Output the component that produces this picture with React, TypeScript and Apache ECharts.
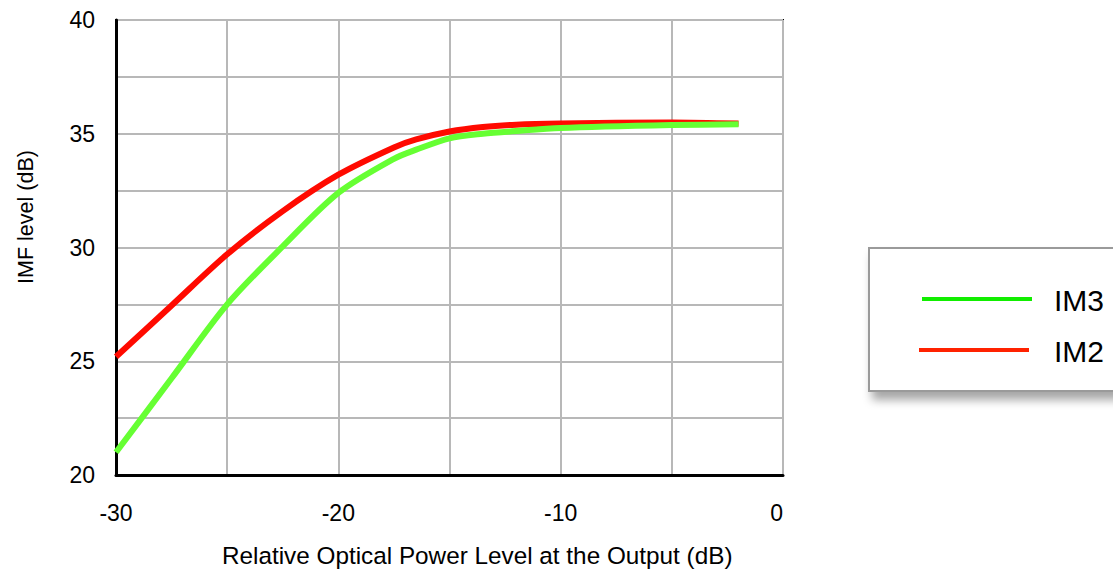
import React, { useEffect, useRef } from "react";
import * as echarts from "echarts";

// Relative optical power at the output (dB)
const powerLevels = [-30, -27.5, -25, -22.5, -20, -17.5, -16.5, -15, -13.5, -12, -10, -5, -2];
// Intermodulation levels (dB)
const im2Values = [25.2, 27.45, 29.7, 31.6, 33.2, 34.4, 34.75, 35.1, 35.3, 35.4, 35.45, 35.5, 35.45];
const im3Values = [21.0, 24.25, 27.5, 30.05, 32.4, 33.9, 34.3, 34.8, 35.0, 35.12, 35.25, 35.38, 35.42];

const seriesNames = ["IM3", "IM2"];
const xTitle = "Relative Optical Power Level at the Output (dB)";
const yTitle = "IMF level (dB)";

const GREEN = "#66ff33";
const RED = "#ff0a00";
const FONT = "Liberation Sans, Arial, sans-serif";

export default function App() {
  const ref = useRef<HTMLDivElement>(null);

  useEffect(() => {
    if (!ref.current) return;
    const chart = echarts.init(ref.current, undefined, { renderer: "svg" });
    const pairs = (ys: number[]) => powerLevels.map((x, i) => [x, ys[i]]);

    chart.setOption({
      animation: false,
      backgroundColor: "#ffffff",
      grid: {
        left: 116,
        top: 20,
        right: 330,
        bottom: 96,
        show: true,
        borderColor: "#000",
        borderWidth: 2,
        backgroundColor: "transparent",
      },
      xAxis: {
        type: "value",
        min: -30,
        max: 0,
        interval: 5,
        axisLine: { show: true, onZero: false, lineStyle: { color: "#000", width: 3 } },
        axisTick: { show: false },
        splitLine: { show: true, lineStyle: { color: "#b8b8b8", width: 2 } },
        axisLabel: {
          margin: 26,
          fontSize: 23,
          color: "#000",
          fontFamily: FONT,
          alignMaxLabel: "right",
          formatter: (v: number) => (v % 10 === 0 ? String(v) : ""),
        },
      },
      yAxis: {
        type: "value",
        min: 20,
        max: 40,
        interval: 2.5,
        axisLine: { show: true, onZero: false, lineStyle: { color: "#000", width: 3 } },
        axisTick: { show: false },
        splitLine: { show: true, lineStyle: { color: "#b8b8b8", width: 2 } },
        axisLabel: {
          margin: 21,
          fontSize: 23,
          color: "#000",
          fontFamily: FONT,
          formatter: (v: number) => (v % 5 === 0 ? String(v) : ""),
        },
      },
      series: [
        {
          name: seriesNames[1],
          type: "line",
          data: pairs(im2Values),
          smooth: 0.3,
          showSymbol: false,
          lineStyle: { color: RED, width: 6 },
        },
        {
          name: seriesNames[0],
          type: "line",
          data: pairs(im3Values),
          smooth: 0.3,
          showSymbol: false,
          lineStyle: { color: GREEN, width: 6 },
        },
      ],
      graphic: [
        {
          type: "text",
          x: 222,
          y: 555,
          style: { text: xTitle, fontSize: 24.3, fill: "#000", fontFamily: FONT, verticalAlign: "middle" },
        },
        {
          type: "text",
          x: 26,
          y: 217,
          rotation: Math.PI / 2,
          style: {
            text: yTitle,
            fontSize: 21.5,
            fill: "#000",
            fontFamily: FONT,
            align: "center",
            verticalAlign: "middle",
          },
        },
        {
          type: "group",
          children: [
            {
              type: "rect",
              shape: { x: 869, y: 248, width: 300, height: 143 },
              style: {
                fill: "#fff",
                stroke: "#9a9a9a",
                lineWidth: 2,
                shadowBlur: 10,
                shadowOffsetX: 4,
                shadowOffsetY: 8,
                shadowColor: "rgba(0,0,0,0.35)",
              },
            },
            {
              type: "line",
              shape: { x1: 922, y1: 299, x2: 1032, y2: 299 },
              style: { stroke: "#11ee00", lineWidth: 4 },
            },
            {
              type: "text",
              x: 1054,
              y: 300,
              style: { text: seriesNames[0], fontSize: 30, fill: "#000", fontFamily: FONT, verticalAlign: "middle" },
            },
            {
              type: "line",
              shape: { x1: 919, y1: 350, x2: 1029, y2: 350 },
              style: { stroke: "#ff2200", lineWidth: 4 },
            },
            {
              type: "text",
              x: 1054,
              y: 351,
              style: { text: seriesNames[1], fontSize: 30, fill: "#000", fontFamily: FONT, verticalAlign: "middle" },
            },
          ],
        },
      ],
    });

    return () => chart.dispose();
  }, []);

  return (
    <div
      ref={ref}
      style={{ position: "fixed", left: 0, top: 0, width: 1113, height: 571, background: "#fff" }}
    />
  );
}
